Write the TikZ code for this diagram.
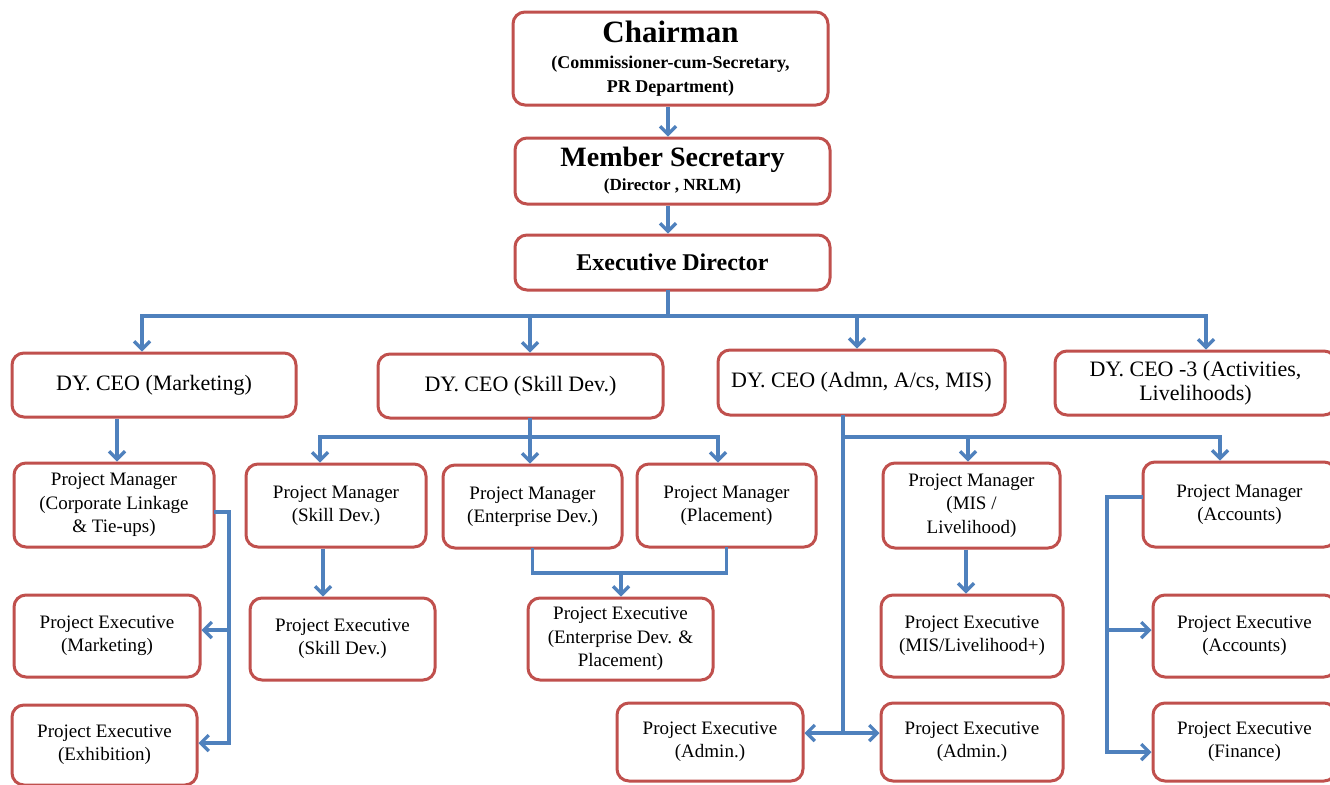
\documentclass[tikz,border=0pt]{standalone}
\usepackage{fontspec}
\setmainfont{Liberation Serif}
\usetikzlibrary{arrows.meta,calc}
\definecolor{boxred}{RGB}{192,80,77}
\definecolor{lineblue}{RGB}{79,129,189}
\tikzset{
  box/.style={draw=boxred, line width=1.5pt, rounded corners=6pt, fill=white, align=center, inner sep=1pt, font=\fontsize{9.5}{11.7}\selectfont},
  ceobox/.style={box, font=\fontsize{11}{12}\selectfont},
  link/.style={draw=lineblue, line width=1.6pt, line cap=rect},
  arr/.style={draw=lineblue, line width=1.6pt, -{Straight Barb[length=4pt,width=8pt]}},
}
\begin{document}
\begin{tikzpicture}[x=0.5pt,y=-0.5pt]
\useasboundingbox (0,0) rectangle (1330,784);
\clip (0,0) rectangle (1330,784);
\fill[white] (0,0) rectangle (1330,784);

% top chain
\node[box, font=\bfseries, minimum width=157.5pt, minimum height=46.5pt] (chair) at (670.5,58.5)
  {\fontsize{15.5}{18}\selectfont Chairman\\[1pt]\fontsize{9}{11}\selectfont (Commissioner-cum-Secretary,\\\fontsize{9}{11}\selectfont PR Department)};
\node[box, font=\bfseries, minimum width=157.5pt, minimum height=33pt] (msec) at (672.5,171)
  {\fontsize{14}{15}\selectfont Member Secretary\\\fontsize{8.5}{10}\selectfont (Director , NRLM)};
\node[box, minimum width=157.5pt, minimum height=27.5pt, font=\bfseries\fontsize{12}{14}\selectfont] (ed) at (672.5,262.5) {Executive Director};

% deputy CEOs
\node[ceobox, minimum width=142pt, minimum height=32pt] (ceo1) at (154,385) {DY. CEO (Marketing)};
\node[ceobox, minimum width=142.5pt, minimum height=32pt] (ceo2) at (520.5,386) {DY. CEO (Skill Dev.)};
\node[ceobox, minimum width=143.5pt, minimum height=32.5pt] (ceo3) at (861.5,382.5) {DY. CEO (Admn, A/cs, MIS)};
\node[ceobox, minimum width=140.5pt, minimum height=32pt] (ceo4) at (1195.5,383) {DY. CEO -3 (Activities,\\Livelihoods)};

% project managers
\node[box, minimum width=100pt, minimum height=42pt] (pm1) at (114,505) {Project Manager\\(Corporate Linkage\\\& Tie-ups)};
\node[box, minimum width=90pt, minimum height=41.5pt] (pm2) at (336,505.5) {Project Manager\\(Skill Dev.)};
\node[box, minimum width=89.5pt, minimum height=41.5pt] (pm3) at (532.5,506.5) {Project Manager\\(Enterprise Dev.)};
\node[box, minimum width=89.5pt, minimum height=41.5pt] (pm4) at (726.5,505.5) {Project Manager\\(Placement)};
\node[box, minimum width=88.5pt, minimum height=42.5pt] (pm5) at (971.5,505.5) {Project Manager\\(MIS /\\Livelihood)};
\node[box, minimum width=96.5pt, minimum height=42.5pt] (pm6) at (1239.5,504.5) {Project Manager\\(Accounts)};

% project executives
\node[box, minimum width=93pt, minimum height=41pt] (pe1) at (107,636) {Project Executive\\(Marketing)};
\node[box, minimum width=92.5pt, minimum height=41pt] (pe2) at (342.5,639) {Project Executive\\(Skill Dev.)};
\node[box, minimum width=92.5pt, minimum height=41pt] (pe3) at (620.5,639) {Project Executive\\(Enterprise Dev. \&\\Placement)};
\node[box, minimum width=91pt, minimum height=41pt] (pe4) at (972,636) {Project Executive\\(MIS/Livelihood+)};
\node[box, minimum width=91.5pt, minimum height=41pt] (pe5) at (1244.5,636) {Project Executive\\(Accounts)};
\node[box, minimum width=92.5pt, minimum height=40pt] (pe6) at (104.5,745) {Project Executive\\(Exhibition)};
\node[box, minimum width=93pt, minimum height=39pt] (pe7) at (710,742) {Project Executive\\(Admin.)};
\node[box, minimum width=91pt, minimum height=39pt] (pe8) at (972,742) {Project Executive\\(Admin.)};
\node[box, minimum width=91.5pt, minimum height=39pt] (pe9) at (1244.5,742) {Project Executive\\(Finance)};

% guide coordinates
\coordinate (g668) at (668,0);
\coordinate (busA) at (668,316);
\coordinate (a1) at (142,316);
\coordinate (a2) at (530,316);
\coordinate (a3) at (857,316);
\coordinate (a4) at (1206,316);
\coordinate (g117) at (117,0);
\coordinate (b1) at (320,437);
\coordinate (b2) at (530,437);
\coordinate (b3) at (718,437);
\coordinate (h1) at (229,512);
\coordinate (h1m) at (229,630);
\coordinate (h1b) at (229,743);
\coordinate (g323) at (323,0);
\coordinate (j3) at (621,573);
\coordinate (k1) at (843,437);
\coordinate (k2) at (843,733);
\coordinate (k3) at (1220,437);
\coordinate (k4) at (968,437);
\coordinate (g966) at (966,0);
\coordinate (m1) at (1107,497);
\coordinate (m3) at (1107,630);
\coordinate (m2) at (1107,752);

% top connectors
\draw[arr] (chair.south -| g668) -- (msec.north -| g668);
\draw[arr] (msec.south -| g668) -- (ed.north -| g668);
\draw[link] (ed.south -| busA) -- (busA);
\draw[link] (a1) -- (a4);
\draw[arr] (a1) -- (ceo1.north -| a1);
\draw[arr] (a2) -- (ceo2.north -| a2);
\draw[arr] (a3) -- (ceo3.north -| a3);
\draw[arr] (a4) -- (ceo4.north -| a4);

% marketing branch
\draw[arr] (ceo1.south -| g117) -- (pm1.north -| g117);
\draw[link] (pm1.east |- h1) -- (h1) -- (h1b);
\draw[arr] (h1m) -- (pe1.east |- h1m);
\draw[arr] (h1b) -- (pe6.east |- h1b);

% skill dev branch
\draw[link] (ceo2.south -| b2) -- (b2);
\draw[link] (b1) -- (b3);
\draw[arr] (b1) -- (pm2.north -| b1);
\draw[arr] (b2) -- (pm3.north -| b2);
\draw[arr] (b3) -- (pm4.north -| b3);
\draw[arr] (pm2.south -| g323) -- (pe2.north -| g323);
\draw[link] (pm3.south) |- (pm4.south |- j3) -- (pm4.south);
\draw[arr] (j3) -- (pe3.north -| j3);

% admin branch
\draw[link] (ceo3.south -| k1) -- (k2);
\draw[link] (k1) -- (k3);
\draw[arr] (k4) -- (pm5.north -| k4);
\draw[arr] (k3) -- (pm6.north -| k3);
\draw[arr] (k2) -- (pe7.east |- k2);
\draw[arr] (k2) -- (pe8.west |- k2);
\draw[arr] (pm5.south -| g966) -- (pe4.north -| g966);
\draw[link] (pm6.west |- m1) -- (m1) -- (m2);
\draw[arr] (m3) -- (pe5.west |- m3);
\draw[arr] (m2) -- (pe9.west |- m2);
\end{tikzpicture}
\end{document}
